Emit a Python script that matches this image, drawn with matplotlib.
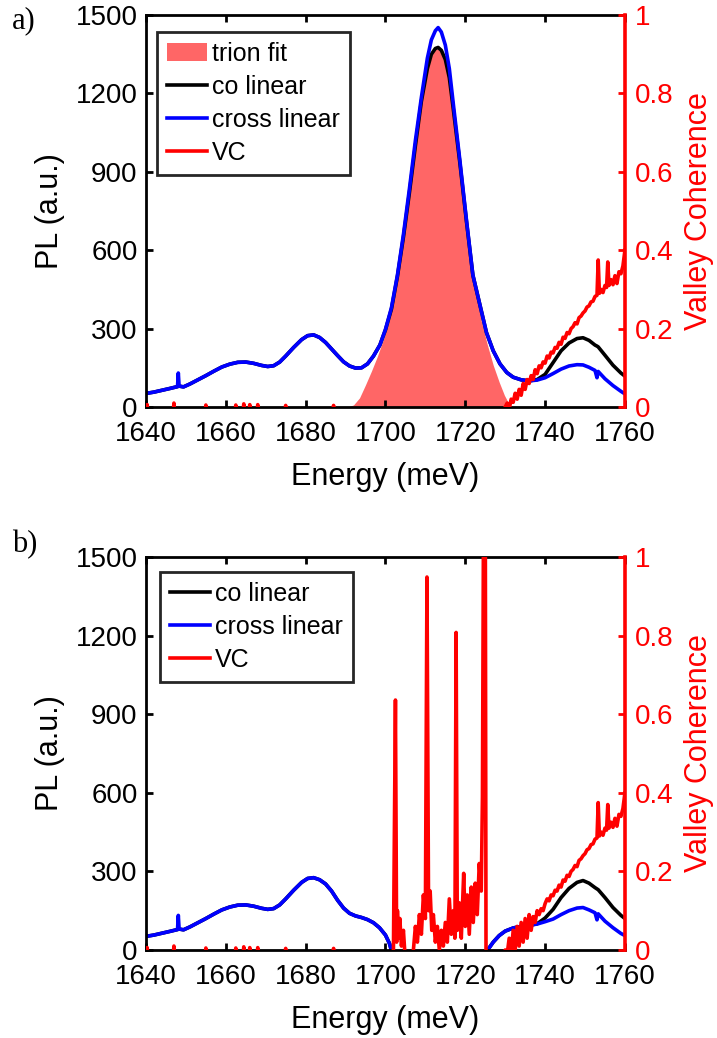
import matplotlib
matplotlib.use('Agg')
import matplotlib.pyplot as plt
from matplotlib.patches import Patch

plt.rcParams['font.family'] = ['Liberation Sans', 'DejaVu Sans']

# ---------------- data ----------------
x_ticks = [1640, 1660, 1680, 1700, 1720, 1740, 1760]
pl_ticks = [0, 300, 600, 900, 1200, 1500]
vc_ticks = [0, 0.2, 0.4, 0.6, 0.8, 1.0]
vc_tick_labels = ['0', '0.2', '0.4', '0.6', '0.8', '1']

# panel a: PL spectra
energy_a = [1640, 1642, 1644, 1646, 1647.9, 1648.1, 1648.3, 1649.4, 1651, 1653,
            1655, 1657, 1659, 1661, 1663, 1665, 1667, 1669, 1670.5, 1672,
            1673.5, 1675, 1677, 1679, 1680.5, 1682, 1683.5, 1685, 1686.5, 1688,
            1689.5, 1691, 1692.5, 1694, 1695.5, 1697, 1698.6, 1700, 1701.5, 1703,
            1704.5, 1706, 1707.5, 1709, 1710.5, 1711.5, 1712.5, 1713.2, 1714, 1715,
            1716, 1717, 1718.6, 1720.3, 1721.9, 1723.6, 1725.3, 1727, 1728.7, 1730.4,
            1732, 1734, 1736, 1738, 1740, 1742, 1744, 1746, 1748, 1749.5,
            1751, 1752.5, 1753.0, 1753.3, 1755, 1757, 1759, 1760]
co_a = [52, 57, 64, 71, 78, 79, 80, 77, 88, 104,
        120, 137, 153, 164, 171, 172, 167, 159, 155, 158,
        172, 195, 228, 258, 273, 276, 266, 247, 222, 197,
        173, 157, 149, 150, 165, 195, 237, 295, 375, 500,
        650, 820, 1000, 1170, 1295, 1350, 1372, 1376, 1365, 1330,
        1260, 1140, 940, 710, 505, 395, 285, 215, 165, 132,
        114, 104, 100, 105, 125, 170, 215, 245, 262, 265,
        255, 237, 233, 230, 198, 160, 130, 118]
cross_a = [52, 57, 64, 71, 78, 130, 80, 77, 88, 104,
           120, 137, 153, 164, 171, 172, 167, 159, 155, 158,
           172, 195, 228, 258, 273, 276, 266, 247, 222, 197,
           173, 157, 149, 150, 165, 195, 237, 297, 380, 505,
           660, 835, 1020, 1185, 1335, 1405, 1440, 1452, 1435, 1385,
           1295, 1160, 950, 715, 505, 395, 285, 215, 165, 132,
           114, 104, 100, 103, 112, 128, 145, 157, 162, 161,
           152, 140, 112, 136, 108, 82, 60, 50]

# panel a: trion fit
fit_energy = [1690.5, 1692, 1693.5, 1695, 1696.5, 1698, 1699.5, 1701, 1702.5, 1704,
              1705.5, 1707, 1708.5, 1710, 1711.3, 1712.3, 1713.2, 1714.2, 1715.3, 1716.5,
              1718, 1719.5, 1721, 1722.5, 1724, 1725.5, 1727, 1728.5, 1729.8, 1731,
              1731.6]
fit_pl = [0, 8, 35, 85, 138, 195, 260, 335, 440, 590,
          760, 950, 1120, 1260, 1340, 1368, 1372, 1355, 1295, 1185,
          1010, 810, 610, 450, 330, 240, 160, 95, 45, 10,
          0]

# panel a: valley coherence
vc_energy_a = [1640.0, 1640.3, 1640.6, 1646.7, 1647.0, 1647.3, 1654.7, 1655.0, 1655.3,
               1662.2, 1662.5, 1662.8, 1664.2, 1664.5, 1664.8, 1665.7, 1666.0, 1666.3,
               1667.7, 1668.0, 1668.3, 1674.7, 1675.0, 1675.3, 1686.7, 1687.0, 1687.3,
               1700.0, 1729.0, 1729.5, 1730.0, 1730.5, 1731.0, 1731.5, 1732.0, 1732.5,
               1733.0, 1733.5, 1734.0, 1734.5, 1735.0, 1735.5, 1736.0, 1736.5, 1737.0,
               1737.5, 1738.0, 1738.5, 1739.0, 1739.5, 1740.0, 1740.5, 1741.0, 1741.5,
               1742.0, 1742.5, 1743.0, 1743.5, 1744.0, 1744.5, 1745.0, 1745.5, 1746.0,
               1746.5, 1747.0, 1747.5, 1748.0, 1748.5, 1749.0, 1749.5, 1750.0, 1750.5,
               1751.0, 1751.5, 1752.0, 1752.5, 1753.0, 1753.3, 1753.6, 1754.0, 1754.5,
               1755.0, 1755.4, 1755.7, 1756.0, 1756.5, 1757.0, 1757.5, 1758.0, 1758.5,
               1759.0, 1759.5, 1760.0]
vc_a = [-0.03, 0.006, -0.03, -0.03, 0.010, -0.03, -0.03, 0.005, -0.03,
        -0.03, 0.005, -0.03, -0.03, 0.008, -0.03, -0.03, 0.006, -0.03,
        -0.03, 0.006, -0.03, -0.03, 0.004, -0.03, -0.03, 0.004, -0.03,
        -0.03, -0.03, -0.010, 0.000, 0.010, -0.005, 0.020, 0.012, 0.035,
        0.020, 0.045, 0.030, 0.060, 0.045, 0.070, 0.060, 0.080, 0.070,
        0.095, 0.085, 0.105, 0.100, 0.115, 0.112, 0.130, 0.125, 0.140,
        0.138, 0.152, 0.150, 0.165, 0.160, 0.178, 0.175, 0.190, 0.187,
        0.200, 0.205, 0.215, 0.212, 0.228, 0.232, 0.240, 0.245, 0.255,
        0.258, 0.268, 0.270, 0.282, 0.285, 0.375, 0.290, 0.300, 0.292,
        0.310, 0.305, 0.370, 0.310, 0.325, 0.312, 0.335, 0.315, 0.345,
        0.340, 0.360, 0.400]

# panel b: PL spectra with the trion fit removed
energy_b = [1640, 1642, 1644, 1646, 1647.9, 1648.1, 1648.3, 1649.4, 1651, 1653,
            1655, 1657, 1659, 1661, 1663, 1665, 1667, 1669, 1670.5, 1672,
            1673.5, 1675, 1677, 1679, 1680.5, 1682, 1683.5, 1685, 1686.5, 1688,
            1689.5, 1691, 1692.5, 1694, 1695.5, 1697, 1698.5, 1700, 1701, 1702,
            1725, 1725.6, 1727, 1728.5, 1730, 1732, 1734, 1736, 1738, 1740,
            1742, 1744, 1746, 1748, 1749.5, 1751, 1752.5, 1753.0, 1753.3, 1755,
            1757, 1759, 1760]
co_b = [52, 57, 64, 71, 78, 79, 80, 77, 88, 104,
        120, 137, 153, 164, 171, 172, 167, 159, 155, 158,
        172, 195, 228, 258, 273, 276, 268, 252, 225, 190,
        160, 140, 130, 124, 116, 104, 85, 57, 25, -30,
        -30, 0, 30, 55, 72, 84, 90, 94, 100, 122,
        155, 200, 235, 258, 265, 255, 238, 233, 230, 200,
        162, 132, 120]
cross_b = [52, 57, 64, 71, 78, 132, 80, 77, 88, 104,
           120, 137, 153, 164, 171, 172, 167, 159, 155, 158,
           172, 195, 228, 258, 273, 276, 268, 252, 225, 190,
           160, 140, 130, 124, 116, 104, 85, 57, 25, -30,
           -30, 0, 30, 55, 72, 84, 90, 94, 99, 108,
           118, 135, 150, 160, 162, 153, 142, 115, 138, 110,
           85, 63, 55]

# panel b: valley coherence
vc_energy_b = [1640.0, 1640.3, 1640.6, 1646.7, 1647.0, 1647.3, 1654.7, 1655.0, 1655.3,
               1662.2, 1662.5, 1662.8, 1664.2, 1664.5, 1664.8, 1665.7, 1666.0, 1666.3,
               1667.7, 1668.0, 1668.3, 1674.7, 1675.0, 1675.3, 1686.7, 1687.0, 1687.3,
               1701.5, 1702.0, 1702.5, 1702.8, 1703.0, 1703.3, 1703.6, 1704.0, 1704.5,
               1705.0, 1706.0, 1707.0, 1707.5, 1708.0, 1708.5, 1709.0, 1709.5, 1710.0,
               1710.4, 1710.8, 1711.2, 1711.6, 1712.0, 1712.5, 1713.0, 1713.5, 1714.0,
               1714.5, 1715.0, 1715.5, 1716.0, 1716.5, 1717.0, 1717.4, 1717.7, 1718.0,
               1718.5, 1719.0, 1719.6, 1720.0, 1720.5, 1721.0, 1721.5, 1722.0, 1722.5,
               1723.0, 1723.5, 1724.0, 1724.3, 1724.6, 1725.0, 1725.2, 1726.0, 1729.0,
               1730.0, 1730.5, 1731.0, 1731.5, 1732.0, 1732.5, 1733.0, 1733.5, 1734.0,
               1734.5, 1735.0, 1735.5, 1736.0, 1736.5, 1737.0, 1737.5, 1738.0, 1738.5,
               1739.0, 1739.5, 1740.0, 1740.5, 1741.0, 1741.5, 1742.0, 1742.5, 1743.0,
               1743.5, 1744.0, 1744.5, 1745.0, 1745.5, 1746.0, 1746.5, 1747.0, 1747.5,
               1748.0, 1748.5, 1749.0, 1749.5, 1750.0, 1750.5, 1751.0, 1751.5, 1752.0,
               1752.5, 1753.0, 1753.3, 1753.6, 1754.0, 1754.5, 1755.0, 1755.4, 1755.7,
               1756.0, 1756.5, 1757.0, 1757.5, 1758.0, 1758.5, 1759.0, 1759.5, 1760.0]
vc_b = [-0.03, 0.006, -0.03, -0.03, 0.010, -0.03, -0.03, 0.005, -0.03,
        -0.03, 0.005, -0.03, -0.03, 0.008, -0.03, -0.03, 0.006, -0.03,
        -0.03, 0.006, -0.03, -0.03, 0.004, -0.03, -0.03, 0.004, -0.03,
        -0.03, 0.000, 0.636, 0.020, 0.100, 0.030, 0.080, 0.010, 0.050,
        -0.03, -0.03, 0.000, 0.060, 0.020, 0.090, 0.040, 0.140, 0.080,
        0.949, 0.100, 0.150, 0.050, 0.090, 0.020, 0.060, 0.000, 0.050,
        0.010, 0.070, 0.020, 0.130, 0.040, 0.100, 0.030, 0.808, 0.050,
        0.120, 0.030, 0.195, 0.060, 0.140, 0.040, 0.160, 0.070, 0.170,
        0.090, 0.220, 0.150, 0.390, 1.200, 1.200, -0.05, -0.03, -0.03,
        0.000, -0.010, 0.030, -0.010, 0.050, 0.000, 0.060, 0.010, 0.070,
        0.020, 0.080, 0.030, 0.090, 0.050, 0.085, 0.070, 0.100, 0.090,
        0.105, 0.100, 0.118, 0.130, 0.125, 0.140, 0.138, 0.152, 0.150,
        0.165, 0.160, 0.178, 0.175, 0.190, 0.187, 0.200, 0.205, 0.215,
        0.212, 0.228, 0.232, 0.240, 0.245, 0.255, 0.258, 0.268, 0.270,
        0.282, 0.285, 0.375, 0.290, 0.300, 0.292, 0.310, 0.305, 0.370,
        0.310, 0.325, 0.312, 0.335, 0.315, 0.345, 0.340, 0.360, 0.400]

# ---------------- figure ----------------
FS_TICK = 20
FS_LABEL = 22
FS_LEG = 18
LW = 2.6

fig = plt.figure(figsize=(7.17, 10.38), dpi=100)


def make_panel(rect, energy, co, cross, vc_e, vc, fit_e=None, fit_v=None,
               leg_anchor=(0.023, 0.957)):
    ax = fig.add_axes(rect)
    handles = []
    if fit_e is not None:
        ax.fill_between(fit_e, 0, fit_v, color=(1, 0, 0), alpha=0.6, linewidth=0)
        handles.append(Patch(facecolor=(1, 0.4, 0.4), edgecolor='none', label='trion fit'))
    l1, = ax.plot(energy, co, color='black', lw=LW, label='co linear')
    l2, = ax.plot(energy, cross, color='#0000FF', lw=LW, label='cross linear')
    ax.set_xlim(1640, 1760)
    ax.set_ylim(0, 1500)
    ax.set_xticks(x_ticks)
    ax.set_yticks(pl_ticks)
    ax.tick_params(axis='both', direction='in', length=5, width=2,
                   labelsize=FS_TICK, top=True, right=False)
    ax.tick_params(axis='x', pad=10)
    ax.tick_params(axis='y', pad=6)
    for s in ['left', 'bottom', 'top']:
        ax.spines[s].set_linewidth(2)
        ax.spines[s].set_color('black')
    ax.spines['right'].set_visible(False)
    ax.set_xlabel('Energy (meV)', fontsize=FS_LABEL, labelpad=11)
    ax.set_ylabel('PL (a.u.)', fontsize=FS_LABEL, labelpad=8)

    ax2 = ax.twinx()
    l3, = ax2.plot(vc_e, vc, color='#FF0000', lw=LW, label='VC')
    ax2.set_ylim(0, 1)
    ax2.set_yticks(vc_ticks)
    ax2.set_yticklabels(vc_tick_labels)
    ax2.tick_params(axis='y', direction='in', length=5, width=2, colors='#FF0000',
                    labelsize=FS_TICK, pad=7)
    for s in ['left', 'bottom', 'top']:
        ax2.spines[s].set_visible(False)
    ax2.spines['right'].set_color('#FF0000')
    ax2.spines['right'].set_linewidth(2.6)
    ax2.set_ylabel('Valley Coherence', color='#FF0000', fontsize=FS_LABEL,
                   labelpad=8)

    handles += [l1, l2, l3]
    leg = ax2.legend(handles=handles, loc='upper left', bbox_to_anchor=leg_anchor,
                     fontsize=FS_LEG, frameon=True, fancybox=False, framealpha=1,
                     edgecolor='#262626', handlelength=1.6, handletextpad=0.2,
                     borderpad=0.4, labelspacing=0.36, borderaxespad=0)
    leg.get_frame().set_linewidth(2)
    return ax, ax2


make_panel([0.2036, 0.6079, 0.668, 0.3776], energy_a, co_a, cross_a,
           vc_energy_a, vc_a, fit_energy, fit_pl, leg_anchor=(0.023, 0.957))
make_panel([0.2036, 0.0848, 0.668, 0.3786], energy_b, co_b, cross_b,
           vc_energy_b, vc_b, leg_anchor=(0.029, 0.962))

fig.text(12 / 717, 1 - 21 / 1038, 'a)', fontsize=22, family='Liberation Serif',
         ha='left', va='center')
fig.text(12 / 717, 1 - 545 / 1038, 'b)', fontsize=22, family='Liberation Serif',
         ha='left', va='center')

fig.savefig('out.png', dpi=100)
